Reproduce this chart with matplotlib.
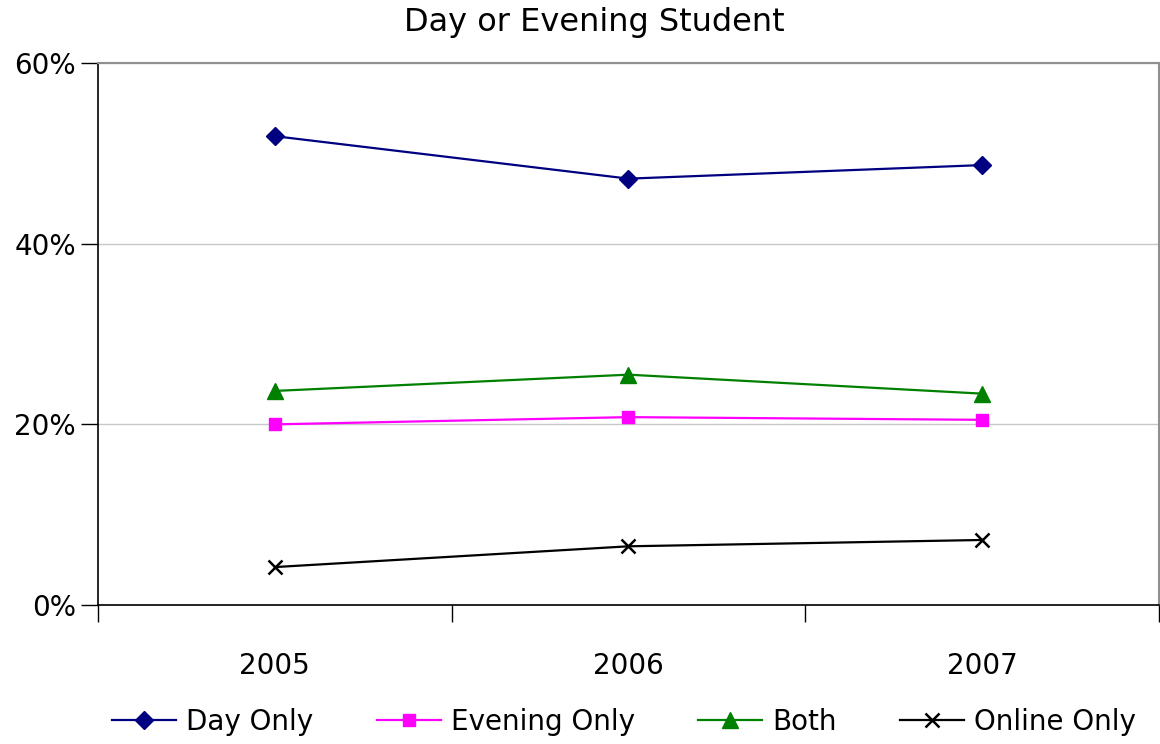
import matplotlib.pyplot as plt
from matplotlib.ticker import PercentFormatter

plt.rcParams['font.family'] = ['DejaVu Sans']

years = ['2005', '2006', '2007']
day_only = [51.9, 47.2, 48.7]
evening_only = [20.0, 20.8, 20.5]
both = [23.7, 25.5, 23.4]
online_only = [4.2, 6.5, 7.2]

fig = plt.figure(figsize=(11.6, 7.44), dpi=100)
ax = fig.add_axes([0.0845, 0.1868, 0.9145, 0.7285])

x = range(len(years))
ax.plot(x, day_only, color='#000080', marker='D', markersize=9, lw=1.6, label='Day Only')
ax.plot(x, evening_only, color='#ff00ff', marker='s', markersize=9, lw=1.6, label='Evening Only')
ax.plot(x, both, color='#008000', marker='^', markersize=11, lw=1.6, label='Both')
ax.plot(x, online_only, color='black', marker='x', markersize=10, mew=1.8, lw=1.6, label='Online Only')

ax.set_xlim(-0.5, 2.5)
ax.set_ylim(0, 60)
ax.set_yticks([0, 20, 40, 60])
ax.yaxis.set_major_formatter(PercentFormatter(decimals=0))
ax.set_xticks([-0.5, 0.5, 1.5, 2.5])
ax.set_xticklabels([])
ax.set_xticks(list(x), minor=True)
ax.set_xticklabels(years, minor=True)
ax.tick_params(axis='x', which='minor', length=0, pad=34, labelsize=20)
ax.tick_params(axis='x', which='major', length=12, width=1, direction='out')
ax.tick_params(axis='y', length=12, width=1, labelsize=20, pad=4)

ax.grid(axis='y', color='#c8c8c8', lw=1)
ax.set_axisbelow(True)
for s in ['top', 'right']:
    ax.spines[s].set_color('#909090')
    ax.spines[s].set_linewidth(1.5)
for s in ['left', 'bottom']:
    ax.spines[s].set_color('black')
    ax.spines[s].set_linewidth(1.2)

fig.text(0.512, 0.970, 'Day or Evening Student', fontsize=23, ha='center', va='center')

fig.legend(loc='center', bbox_to_anchor=(0.538, 0.03), ncol=4, frameon=False,
           fontsize=20, handlelength=2.3, columnspacing=2.3, handletextpad=0.35)

fig.savefig('out.png')
